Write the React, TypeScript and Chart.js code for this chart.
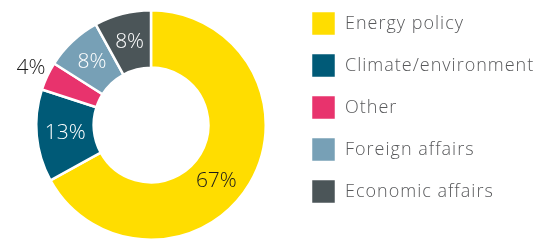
import React, { useEffect, useRef } from "react";
import { Chart, registerables } from "chart.js";

Chart.register(...registerables);

const categories = ["Energy policy", "Climate/environment", "Other", "Foreign affairs", "Economic affairs"];
const shares = [67, 13, 4, 8, 8];
const sliceColors = ["#FFDD00", "#005A77", "#E8336D", "#77A0B6", "#4B5558"];
const labelColors = ["#1a1a1a", "#ffffff", "#1a1a1a", "#ffffff", "#ffffff"];
// label angle nudges (degrees), styling only
const labelAngleShift = [10, 0, 0, 0, 0];

const FONT = "'Open Sans', Lato, sans-serif";

const spacing = {
  id: "spacing",
  beforeDraw(chart: any) {
    (chart.ctx as any).letterSpacing = "1px";
  },
  afterDraw(chart: any) {
    (chart.ctx as any).letterSpacing = "0px";
  },
};

const sliceLabels = {
  id: "sliceLabels",
  afterDatasetsDraw(chart: any) {
    const meta = chart.getDatasetMeta(0);
    const ctx = chart.ctx;
    ctx.save();
    (ctx as any).letterSpacing = "0px";
    ctx.font = `300 21px ${FONT}`;
    ctx.textAlign = "center";
    ctx.textBaseline = "middle";
    meta.data.forEach((arc: any, i: number) => {
      const p = arc.getProps(["x", "y", "startAngle", "endAngle", "innerRadius", "outerRadius"], true);
      const mid = (p.startAngle + p.endAngle) / 2 + (labelAngleShift[i] * Math.PI) / 180;
      const outside = shares[i] < 5;
      const r = outside ? p.outerRadius + 18 : (p.innerRadius + p.outerRadius) / 2;
      ctx.fillStyle = labelColors[i];
      ctx.fillText(`${shares[i]}%`, p.x + r * Math.cos(mid), p.y + r * Math.sin(mid));
    });
    ctx.restore();
  },
};

const placement = {
  id: "placement",
  afterLayout(chart: any) {
    const ca = chart.chartArea;
    ca.left = 35; ca.right = 267; ca.top = 9; ca.bottom = 241;
    ca.width = 232; ca.height = 232;
    const lg = chart.legend;
    if (lg) {
      lg.left = 294; lg.right = 556; lg.width = 262;
      lg.top = -6; lg.bottom = 242; lg.height = 248;
    }
  },
};

export default function App() {
  const ref = useRef<HTMLCanvasElement | null>(null);
  useEffect(() => {
    document.body.style.margin = "0";
    const chart = new Chart(ref.current as HTMLCanvasElement, {
      type: "doughnut",
      data: {
        labels: categories,
        datasets: [
          {
            data: shares,
            backgroundColor: sliceColors,
            borderColor: "#ffffff",
            borderWidth: 2.5,
            hoverOffset: 0,
          },
        ],
      },
      options: {
        responsive: false,
        animation: false,
        cutout: "50%",
        layout: { padding: 0 },
        plugins: {
          tooltip: { enabled: false },
          legend: {
            position: "right",
            align: "start",
            labels: {
              boxWidth: 25,
              boxHeight: 25,
              padding: 17,
              color: "#58595B",
              font: { family: FONT, size: 18, weight: "300" as any },
            },
          },
        },
      },
      plugins: [spacing, sliceLabels, placement],
    });
    return () => chart.destroy();
  }, []);
  return (
    <div style={{ width: 556, height: 242 }}>
      <canvas ref={ref} width={556} height={242} />
    </div>
  );
}
